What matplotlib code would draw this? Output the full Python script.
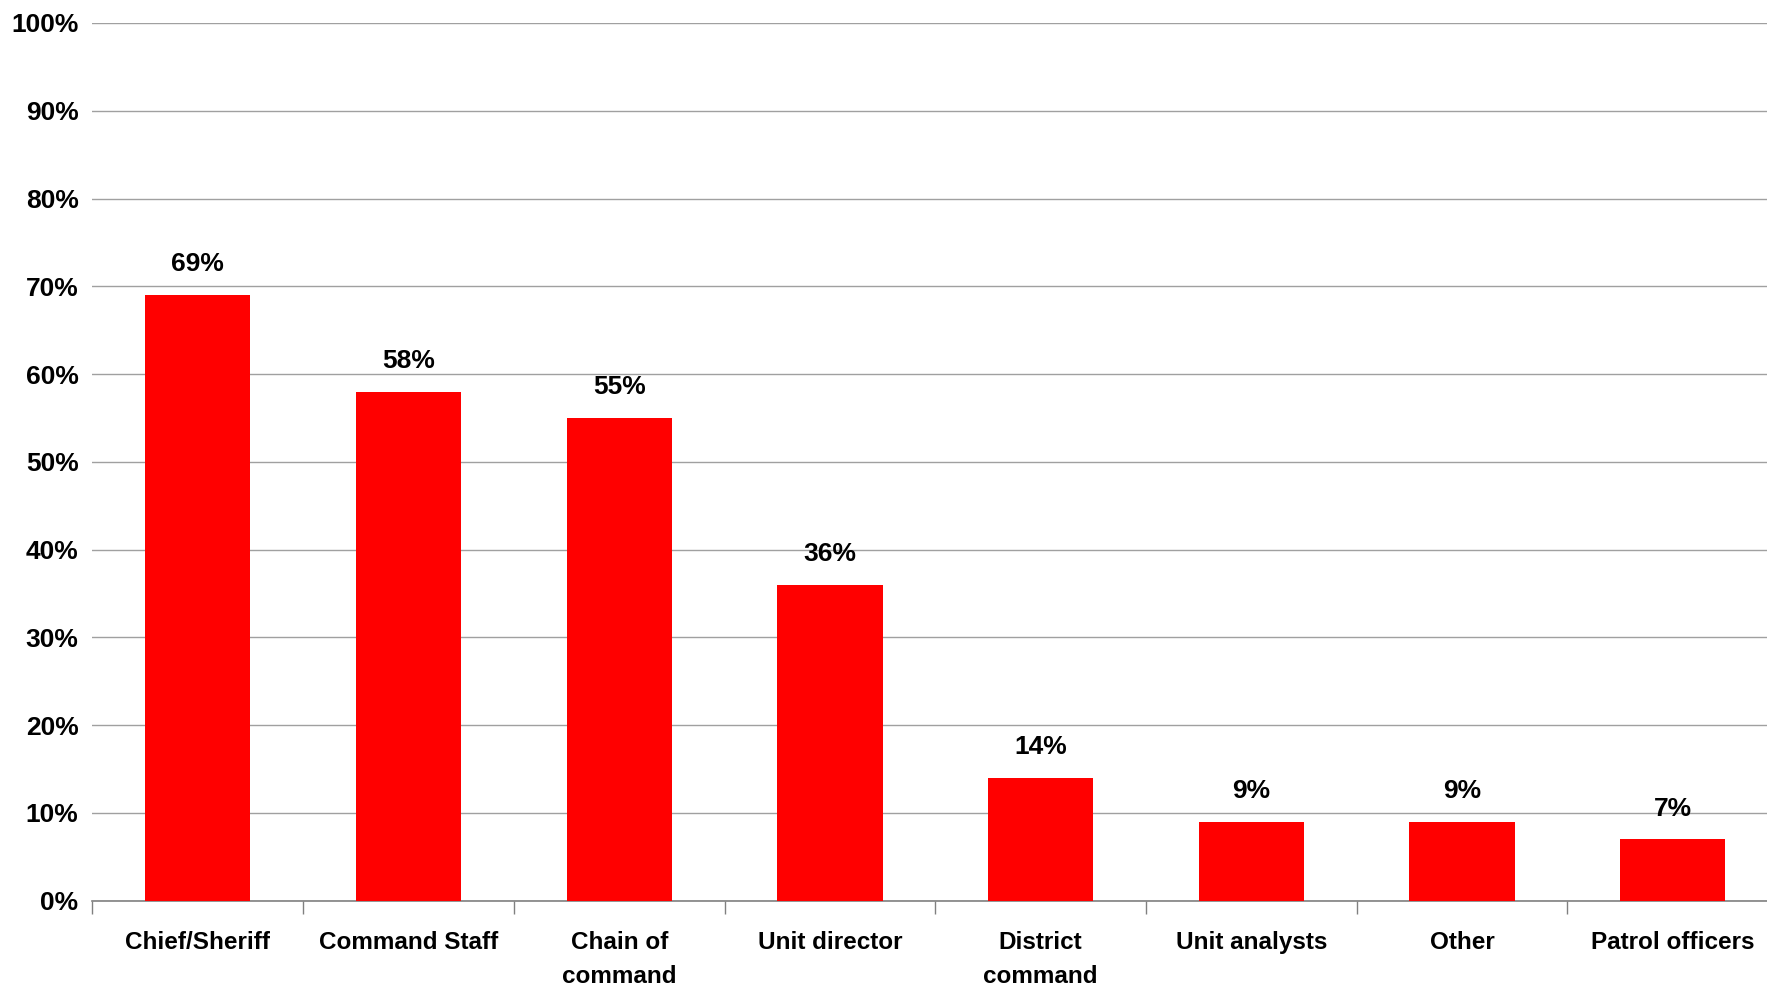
import numpy as np
import matplotlib.pyplot as plt

plt.rcParams['font.family'] = ['Liberation Sans Narrow', 'Liberation Sans', 'DejaVu Sans']

categories = ['Chief/Sheriff', 'Command Staff', 'Chain of\ncommand', 'Unit director',
              'District\ncommand', 'Unit analysts', 'Other', 'Patrol officers']
values = [69, 58, 55, 36, 14, 9, 9, 7]
yticks = [0, 10, 20, 30, 40, 50, 60, 70, 80, 90, 100]

fig = plt.figure(figsize=(17.67, 9.9), dpi=100)
ax = fig.add_axes([0.0523, 0.0902, 0.954, 0.8866])

x = np.arange(len(categories))
ax.bar(x, values, width=0.5, color='#ff0000', zorder=3)

for xi, v in zip(x, values):
    ax.text(xi, v + 3.5, '%d%%' % v, ha='center', va='center',
            fontsize=19, fontweight='bold')

ax.set_xlim(-0.5, len(categories) - 0.5)
ax.set_ylim(0, 100)

ax.set_yticks(yticks)
ax.set_yticklabels(['%d%%' % t for t in yticks], fontsize=19, fontweight='bold')
ax.yaxis.grid(True, color='#a0a0a0', linewidth=1, zorder=0)
ax.tick_params(axis='y', length=0, pad=10)

# category labels at centers, ticks at boundaries
ax.set_xticks(np.arange(len(categories) + 1) - 0.5)
ax.set_xticklabels([])
ax.tick_params(axis='x', length=9, color='#808080', width=1)
for xi, lab in zip(x, categories):
    ax.text(xi, -3.5, lab, ha='center', va='top', fontsize=17.5,
            fontweight='bold', linespacing=1.6)

for s in ['left', 'right', 'top']:
    ax.spines[s].set_visible(False)
ax.spines['bottom'].set_color('#808080')
ax.spines['bottom'].set_linewidth(1.2)

fig.savefig('out.png', dpi=100)
